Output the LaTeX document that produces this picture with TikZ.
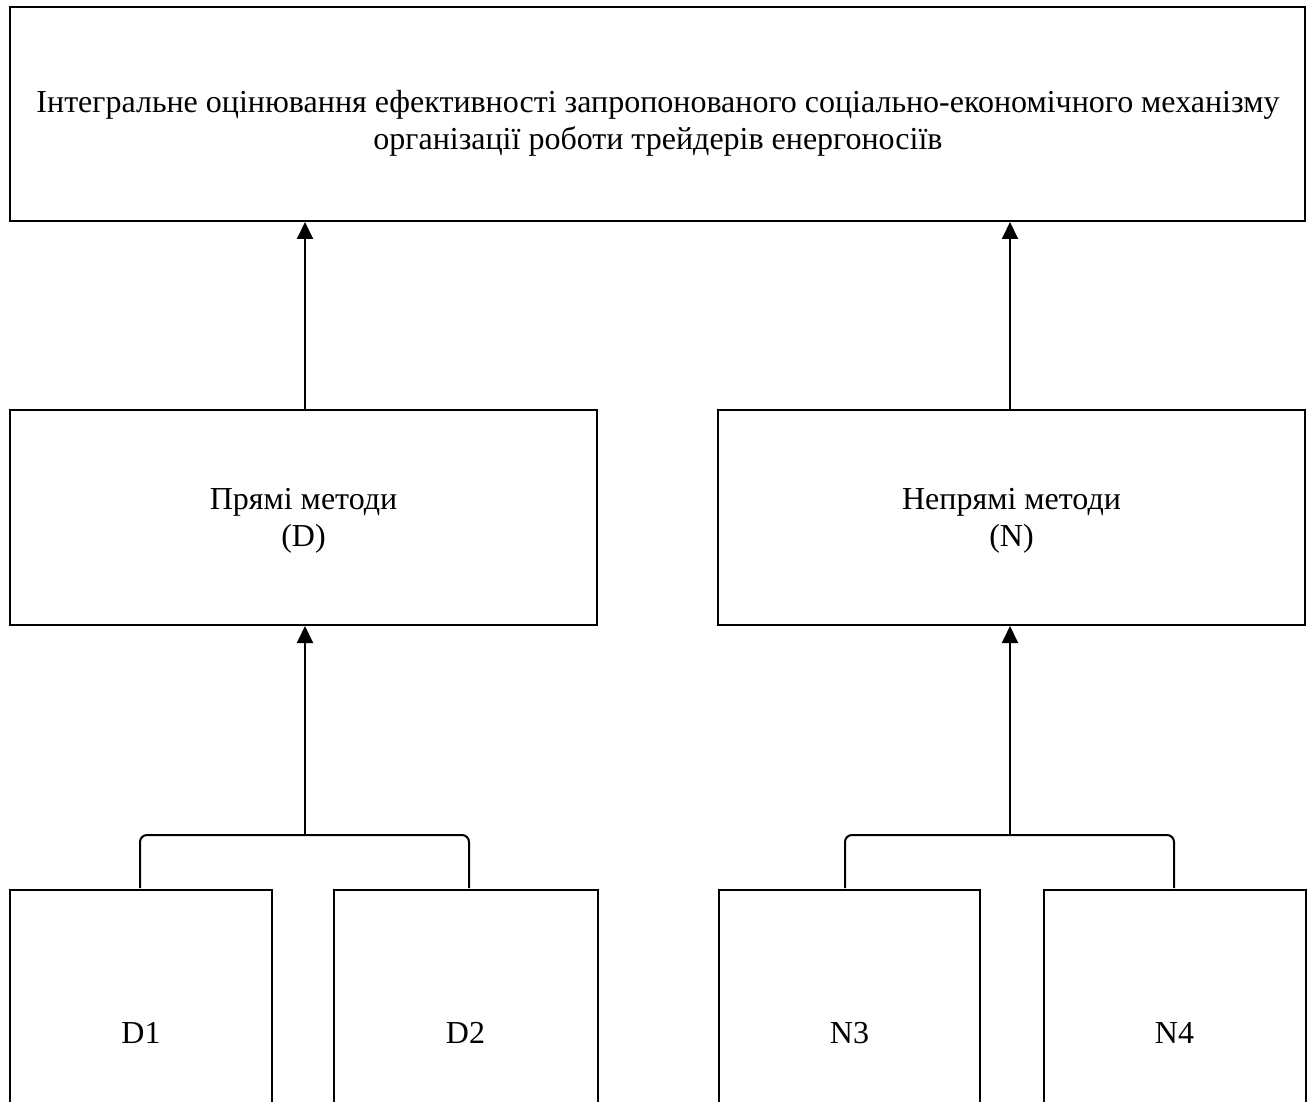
\documentclass[tikz,border=0pt]{standalone}
\usepackage{fontspec}
\setmainfont{Liberation Serif}
\usetikzlibrary{arrows.meta,calc}
\begin{document}
\begin{tikzpicture}[x=1pt,y=-1pt,
  box/.style={draw,line width=2pt,inner sep=0pt,align=center,font=\fontsize{32}{37}\selectfont},
  txt/.style={inner sep=0pt,align=center,font=\fontsize{32}{37}\selectfont},
  link/.style={line width=2pt,-{Triangle[width=16pt,length=17pt]}},
  brace/.style={line width=2pt,rounded corners=7pt}]
\useasboundingbox (0,0) rectangle (1312,1102);
\clip (0,0) rectangle (1312,1102);
% top
\node[box,minimum width=1295pt,minimum height=214pt] (top) at (657.5,114) {};
\node[txt] (toptext) at (658,123)
  {Інтегральне оцінювання ефективності запропонованого соціально-економічного механізму\\організації роботи трейдерів енергоносіїв};
% middle
\node[box,minimum width=587pt,minimum height=215pt] (D) at (303.5,517.5) {};
\node[txt] (Dtext) at (303.5,521) {Прямі методи\\(D)};
\node[box,minimum width=587pt,minimum height=215pt] (N) at (1011.5,517.5) {};
\node[txt] (Ntext) at (1011.5,521) {Непрямі методи\\(N)};
% bottom
\node[box,minimum width=262pt,minimum height=290pt] (D1) at (141,1035) {};
\node[box,minimum width=264pt,minimum height=290pt] (D2) at (465.5,1035) {};
\node[box,minimum width=261pt,minimum height=290pt] (N3) at (849.5,1035) {};
\node[box,minimum width=262pt,minimum height=290pt] (N4) at (1174.5,1035) {};
\node[txt] (D1t) at (141,1033) {D1};
\node[txt] (D2t) at (465.5,1033) {D2};
\node[txt] (N3t) at (849.5,1033) {N3};
\node[txt] (N4t) at (1174.5,1033) {N4};
% arrows to top
\draw[link] (305,410) coordinate (Dup) -- (Dup |- top.south);
\draw[link] (1010,410) coordinate (Nup) -- (Nup |- top.south);
% brackets
\coordinate (bD) at (305,835);
\coordinate (bN) at (1010,835);
\draw[brace] (140,888) |- (bD) -| (469,888);
\draw[brace] (845,888) |- (bN) -| (1174,888);
\draw[link] (bD) -- (bD |- D.south);
\draw[link] (bN) -- (bN |- N.south);
\end{tikzpicture}
\end{document}
